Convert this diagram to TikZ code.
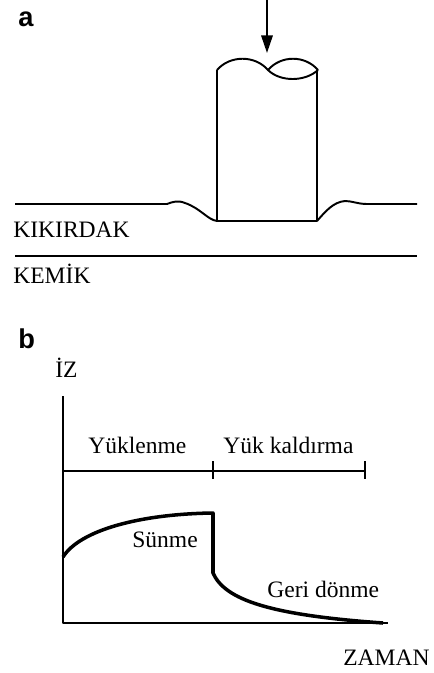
\documentclass[tikz,border=0pt]{standalone}
\usepackage{fontspec}
\setmainfont{Liberation Serif}
\newfontfamily\panelfont{Liberation Sans}
\usetikzlibrary{arrows.meta}
\tikzset{
  lbl/.style={inner sep=0pt,anchor=base west,font=\fontsize{13.4}{15}\selectfont},
  panel/.style={inner sep=0pt,anchor=base west,font=\panelfont\bfseries\fontsize{15.5}{17}\selectfont},
  thin/.style={line width=1.1pt},
  thick/.style={line width=2pt}
}
\begin{document}
\begin{tikzpicture}[x=0.02cm,y=-0.02cm,line join=round]
\useasboundingbox(0,0)rectangle(433,673);
% panel a: indenter pressed into the cartilage
\node[panel](a)at(18,26){a};
\coordinate(load)at(267,0);
\coordinate(tip)at(267,53);
\draw[thin,-{Triangle[length=10pt,width=6.5pt]}](load)--(tip);
\draw[thin](217,70)--(217,221)--(317,221)--(317,70);
\draw[thin](217,70)..controls(230,55)and(255,55)..(268,70)
  ..controls(281,55)and(305,55)..(318,70);
\draw[thin](268,70)..controls(280,82)and(305,82)..(318,70);
% cartilage surface
\draw[thin](15,204)--(167,204)..controls(172,202)and(178,200)..(185,203)
  ..controls(200,208)and(208,220)..(217,221);
\draw[thin](317,221)..controls(325,212)and(333,202)..(345,201)
  ..controls(352,201)and(358,204)..(367,204)--(417,204);
\node[lbl](kikirdak)at(13,237){KIKIRDAK};
% bone
\draw[line width=1.5pt](15,256)--(417,256);
\node[lbl](kemik)at(13,283){KEMİK};
%
% panel b: indentation against time
\node[panel](b)at(18,348){b};
\node[lbl](iz)at(55,377){İZ};
\coordinate(O)at(63,623);
\draw[thin](63,396)--(O)--(388,623);
\node[lbl](zaman)at(343,665){ZAMAN};
% loading and unloading intervals
\draw[thin](63,471)--(365,471);
\draw[thin](213,461)--(213,479);
\draw[thin](365,461)--(365,479);
\node[lbl](yuklenme)at(88,453){Yüklenme};
\node[lbl](kaldirma)at(223,453){Yük kaldırma};
% creep and recovery curve
\draw[thick](63,557)..controls(80,530)and(140,514)..(213,513)--(213,573)
  ..controls(225,600)and(270,615)..(383,623);
\node[lbl](sunme)at(132,547){Sünme};
\node[lbl](geri)at(267,597){Geri dönme};
\end{tikzpicture}
\end{document}
